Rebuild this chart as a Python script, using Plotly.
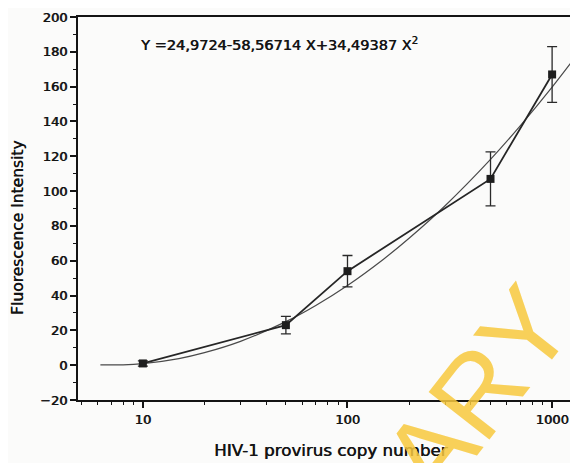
import plotly.graph_objects as go

# Measured data (HIV-1 provirus copy number vs fluorescence intensity)
copy_number = [10, 50, 100, 500, 1000]
intensity = [1.0, 23.0, 54.0, 107.0, 167.0]
error = [1.5, 5.0, 9.0, 15.5, 16.0]

# Fitted quadratic curve
fit_x = [6.2, 8, 10, 15, 20, 30, 50, 70, 100, 150, 200, 300, 500, 700, 1000, 1280]
fit_y = [0.2, 0.2, 0.9, 3.8, 7.2, 13.7, 25.0, 34.3, 45.8, 60.9, 72.9, 91.6, 118.2, 137.6, 159.7, 176.0]

equation = "Y =24,9724-58,56714 X+34,49387 X<sup>2</sup>"
x_title = "HIV-1 provirus copy number"
y_title = "Fluorescence Intensity"
x_tick_vals = [10, 100, 1000]
x_tick_text = ["10", "100", "1000"]
x_minor_vals = [5, 6, 7, 8, 9, 20, 30, 40, 50, 60, 70, 80, 90,
                200, 300, 400, 500, 600, 700, 800, 900]
y_tick_vals = [-20, 0, 20, 40, 60, 80, 100, 120, 140, 160, 180, 200]

FONT = "DejaVu Sans, Arial, sans-serif"
INK = "#141414"
HEAVY = "0.6px 0px 0px #141414"  # thickens glyphs slightly, like the scanned print

fig = go.Figure()
fig.add_trace(go.Scatter(
    x=fit_x, y=fit_y, mode="lines",
    line=dict(color="#4a4a4a", width=1.2, shape="spline"),
    hoverinfo="skip", showlegend=False))
fig.add_trace(go.Scatter(
    x=copy_number, y=intensity, mode="lines+markers",
    line=dict(color="#262626", width=1.8),
    marker=dict(symbol="square", size=8, color="#1e1e1e"),
    error_y=dict(type="data", array=error, visible=True,
                 color="#2a2a2a", thickness=1.3, width=5),
    showlegend=False))

fig.update_xaxes(
    type="log", range=[0.683, 3.107],
    tickmode="array", tickvals=x_tick_vals, ticktext=x_tick_text,
    ticks="outside", ticklen=6, tickwidth=1.5, tickcolor=INK,
    minor=dict(tickmode="array", tickvals=x_minor_vals, ticks="outside",
               ticklen=3, tickwidth=1.2, tickcolor=INK),
    showline=True, linewidth=2, linecolor=INK, mirror=True,
    showgrid=False, zeroline=False, ticklabeloverflow="allow",
    tickfont=dict(family=FONT, size=13, color=INK, shadow=HEAVY))
fig.update_yaxes(
    range=[-20, 200],
    tickmode="array", tickvals=y_tick_vals,
    ticks="outside", ticklen=6, tickwidth=1.5, tickcolor=INK,
    minor=dict(dtick=10, ticks="outside", ticklen=3, tickwidth=1.2, tickcolor=INK),
    showline=True, linewidth=2, linecolor=INK, mirror=True,
    showgrid=False, zeroline=False, ticklabeloverflow="allow",
    tickfont=dict(family=FONT, size=13, color=INK, shadow=HEAVY))

fig.add_annotation(text=equation, xref="paper", yref="y", x=0.12, y=184.5,
                   xanchor="left", yanchor="middle", showarrow=False,
                   font=dict(family=FONT, size=14.5, color=INK, shadow=HEAVY))
fig.add_annotation(text=x_title, xref="paper", yref="paper", x=0.51, y=-0.13,
                   xanchor="center", yanchor="middle", showarrow=False,
                   font=dict(family=FONT, size=16.7, color=INK, shadow=HEAVY))
fig.add_annotation(text=y_title, xref="paper", yref="paper", x=-0.122, y=0.45,
                   xanchor="center", yanchor="middle", showarrow=False, textangle=-90,
                   font=dict(family=FONT, size=15.5, color=INK, shadow=HEAVY))
# Scanned library watermark
fig.add_annotation(text="LIBRARY", xref="paper", yref="paper", x=0.65, y=-0.235,
                   xanchor="center", yanchor="middle", showarrow=False, textangle=-52,
                   font=dict(family="Liberation Sans, Arial, sans-serif", size=112,
                             color="rgba(247,200,60,0.85)"))

# The page has an 8px body margin, so the figure is 570x455 and the margins are reduced by 8
fig.update_layout(
    width=570, height=455,
    margin=dict(l=70, r=2, t=7, b=63),
    paper_bgcolor="#fbfbfa", plot_bgcolor="#fbfbfa",
    font=dict(family=FONT, color=INK))

fig.write_html("out.html")
